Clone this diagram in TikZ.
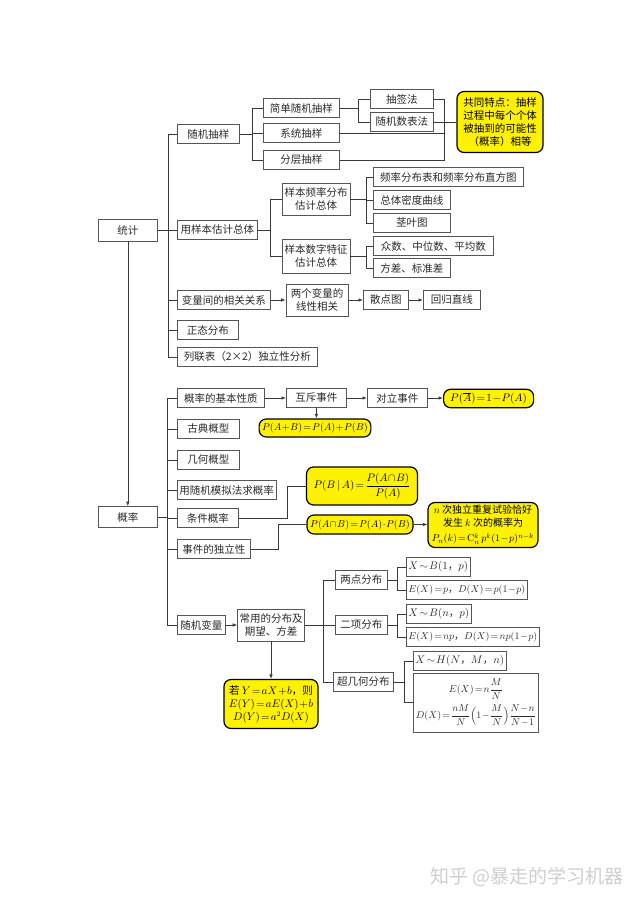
\documentclass[tikz,border=0pt]{standalone}
\usepackage{amsmath}
\usepackage{fontspec}
\usepackage{xcolor}
\usetikzlibrary{arrows.meta}
\newfontfamily\cjk{Noto Sans CJK SC}
\newcommand\tightmath{\thickmuskip=2mu\relax\medmuskip=1mu\relax}

\begin{document}
\begin{tikzpicture}[x=1pt,y=-1pt,
  bx/.style={draw=boxgray,line width=0.7pt,fill=white,text=txtgray,font=\cjk\fontsize{10.5}{13}\selectfont\tightmath,inner sep=2pt,minimum height=19,align=center},
  ybx/.style={bx,draw=black,line width=1.2pt,fill=yel,text=black,rounded corners=7pt,inner sep=3pt},
  fm/.style={font=\cjk\fontsize{10}{12.5}\selectfont\tightmath},
  ln/.style={draw=lngray,line width=0.7pt},
  arr/.style={ln,-{Latex[length=4.5pt,width=3.5pt]}}]
\definecolor{boxgray}{HTML}{555555}
\definecolor{lngray}{HTML}{3A3A3A}
\definecolor{txtgray}{HTML}{2B2B2B}
\definecolor{yel}{HTML}{FFF200}
\definecolor{wmgray}{HTML}{CFCFCF}
\fill[white] (0,0) rectangle (640,905);
\useasboundingbox (0,0) rectangle (640,905);

\node[bx,anchor=west,minimum width=59,minimum height=22] (tongji) at (98,230) {统计};
\node[bx,anchor=west,minimum width=59,minimum height=21] (gailv) at (98,517) {概率};

  \foreach \nm/\txt/\y/\w in {sjcy/随机抽样/134/62,ybgj/用样本估计总体/230/80,xgxg/变量间的相关关系/300/93,ztfb/正态分布/330/61,llb/列联表（2×2）独立性分析/357/140}
  {  \node[bx,anchor=west,minimum width=\w] (\nm) at (177,\y) {\txt};}
  \foreach \nm/\txt/\y in {jdsj/简单随机抽样/108,xtcy/系统抽样/133,fccy/分层抽样/160}
  {  \node[bx,anchor=west,minimum width=76] (\nm) at (263,\y) {\txt};}
  \foreach \nm/\txt/\y in {cqf/抽签法/99,sjsb/随机数表法/122}
  {  \node[bx,anchor=west,minimum width=63] (\nm) at (370,\y) {\txt};}
\node[ybx,text width=80,minimum height=61] (gtd) at (500,122) {共同特点：抽样\\过程中每个个体\\被抽到的可能性\\（概率）相等};

\node[bx,minimum width=68,minimum height=32] (plfb) at (316,199) {样本频率分布\\估计总体};
\node[bx,minimum width=68,minimum height=34] (szfz) at (316,256) {样本数字特征\\估计总体};
  \foreach \nm/\txt/\y/\w in {zft/频率分布表和频率分布直方图/177/150,mdqx/总体密度曲线/200/77,jyt/茎叶图/223/77,zs/众数、中位数、平均数/246/120,fc/方差、标准差/268/77}
  {  \node[bx,anchor=west,minimum width=\w] (\nm) at (373,\y) {\txt};}

\node[bx,minimum width=62,minimum height=32] (xxxg) at (317,300) {两个变量的\\线性相关};
\node[bx,anchor=west,minimum width=45] (sdt) at (363,300) {散点图};
\node[bx,anchor=west,minimum width=57] (hgzx) at (423,300) {回归直线};

  \foreach \nm/\txt/\y/\w in {jbxz/概率的基本性质/398/87,gdgx/古典概型/429/62,jhgx/几何概型/460/62,mnf/用随机模拟法求概率/490/98,tjgl/条件概率/518/61,dlx/事件的独立性/549/73,sjbl/随机变量/625/48}
  {  \node[bx,anchor=west,minimum width=\w] (\nm) at (177,\y) {\txt};}
\node[bx,anchor=west,minimum width=60] (hcsj) at (286,398) {互斥事件};
\node[bx,anchor=west,minimum width=60] (dlsj) at (367,398) {对立事件};
\node[ybx,anchor=west,minimum width=90,minimum height=18] (pa) at (443,398.5) {$P(\overline{A})=1-P(A)$};
\node[ybx,fm,minimum width=104,minimum height=18] (pab) at (315,428) {$P(A+B)=P(A)+P(B)$};
\node[ybx,minimum width=111,minimum height=38] (pba) at (362,486) {$P(B\,|\,A)=\dfrac{P(A\cap B)}{P(A)}$};
\node[ybx,fm,minimum width=106,minimum height=19] (pint) at (360,524.5) {$P(A\cap B)=P(A)\cdot P(B)$};
\node[ybx,fm,minimum width=110,minimum height=44] (ncf) at (483,525) {$n$ 次独立重复试验恰好\\发生 $k$ 次的概率为\\[3pt]$P_n(k)=\mathrm{C}_n^k\,p^k(1-p)^{n-k}$};

\node[bx,minimum width=67,minimum height=32] (cyfb) at (271,625) {常用的分布及\\期望、方差};
  \foreach \nm/\txt/\x/\y/\w in {ldfb/两点分布/335/580/52,exfb/二项分布/335/625/52,cjhfb/超几何分布/333/682/60}
  {  \node[bx,anchor=west,minimum width=\w] (\nm) at (\x,\y) {\txt};}
\node[bx,anchor=west,minimum width=62] (xb1) at (406,567) {$X\sim B(1$，$p)$};
\node[bx,fm,anchor=west,minimum width=116] (ep) at (406,590) {$E(X)=p$，$D(X)=p(1-p)$};
\node[bx,anchor=west,minimum width=62] (xbn) at (406,614) {$X\sim B(n$，$p)$};
\node[bx,fm,anchor=west,minimum width=127] (enp) at (406,637) {$E(X)=np$，$D(X)=np(1-p)$};
\node[bx,anchor=west,minimum width=90] (xh) at (413,661) {$X\sim H(N$，$M$，$n)$};
\node[bx,fm,anchor=west,minimum width=125,minimum height=59] (edx) at (413,702.5) {$E(X)=n\dfrac{M}{N}$\\[5pt]$D(X)=\dfrac{nM}{N}\Big(1-\dfrac{M}{N}\Big)\dfrac{N-n}{N-1}$};
\node[ybx,minimum width=94,minimum height=49] (yab) at (271,704) {若 $Y=aX+b$，则\\$E(Y)=aE(X)+b$\\$D(Y)=a^2D(X)$};

\node[font=\cjk\fontsize{19}{19}\selectfont,text=wmgray] (wm) at (527,877) {知乎 @暴走的学习机器};

\coordinate (tbus) at (168,230);
\draw[ln] (tongji.east) -- (tbus);
  \foreach \c in {sjcy,ybgj,xgxg,ztfb,llb}
  {  \draw[ln] (tbus) |- (\c.west);}
\draw[arr] (tongji.south) -- (gailv.north);
\coordinate (sbus) at (252,134);
\draw[ln] (sjcy.east) -- (sbus);
  \foreach \c in {jdsj,xtcy,fccy}
  {  \draw[ln] (sbus) |- (\c.west);}
\coordinate (jbus) at (358,108);
\draw[ln] (jdsj.east) -- (jbus);
  \foreach \c in {cqf,sjsb}
  {  \draw[ln] (jbus) |- (\c.west);}
\coordinate (rbus) at (444,122);
  \foreach \c in {cqf,sjsb,xtcy,fccy}
  {  \draw[ln] (\c.east) -| (rbus);}
\draw[ln] (rbus) -- (gtd.west);
\coordinate (ybus) at (270,230);
\draw[ln] (ybgj.east) -- (ybus);
  \foreach \c in {plfb,szfz}
  {  \draw[ln] (ybus) |- (\c.west);}
\coordinate (pbus) at (366,199);
\draw[ln] (plfb.east) -- (pbus);
  \foreach \c in {zft,mdqx,jyt}
  {  \draw[ln] (pbus) |- (\c.west);}
\coordinate (zbus) at (366,256);
\draw[ln] (szfz.east) -- (zbus);
  \foreach \c in {zs,fc}
  {  \draw[ln] (zbus) |- (\c.west);}
\draw[arr] (xgxg.east) -- (xxxg.west);
\draw[arr] (xxxg.east) -- (sdt.west);
\draw[arr] (sdt.east) -- (hgzx.west);

\coordinate (gbus) at (167,517);
\draw[ln] (gailv.east) -- (gbus);
  \foreach \c in {jbxz,gdgx,jhgx,mnf,tjgl,dlx,sjbl}
  {  \draw[ln] (gbus) |- (\c.west);}
\draw[arr] (jbxz.east) -- (hcsj.west);
\draw[arr] (hcsj.east) -- (dlsj.west);
\draw[arr] (dlsj.east) -- (dlsj.east -| pa.west);
\draw[arr] (hcsj.south) -- (hcsj.south |- pab.north);
\draw[ln] (tjgl.east) -- ++(49,0) |- (pba.west);
\draw[ln] (dlx.east) -- ++(28,0) |- (pint.west);
\draw[arr] (pint.east) -- (pint.east -| ncf.west);
\draw[arr] (sjbl.east) -- (cyfb.west);
\coordinate (cbus) at (323,625);
\draw[ln] (cyfb.east) -- (cbus);
  \foreach \c in {ldfb,exfb,cjhfb}
  {  \draw[ln] (cbus) |- (\c.west);}
\coordinate (lbus) at (397,580);
\draw[ln] (ldfb.east) -- (lbus);
  \foreach \c in {xb1,ep}
  {  \draw[ln] (lbus) |- (\c.west);}
\coordinate (ebus) at (397,625);
\draw[ln] (exfb.east) -- (ebus);
  \foreach \c in {xbn,enp}
  {  \draw[ln] (ebus) |- (\c.west);}
\coordinate (hbus) at (404,682);
\draw[ln] (cjhfb.east) -- (hbus);
  \foreach \c in {xh,edx}
  {  \draw[ln] (hbus) |- (\c.west);}
\draw[arr] (cyfb.south) -- (yab.north);
\end{tikzpicture}
\end{document}
